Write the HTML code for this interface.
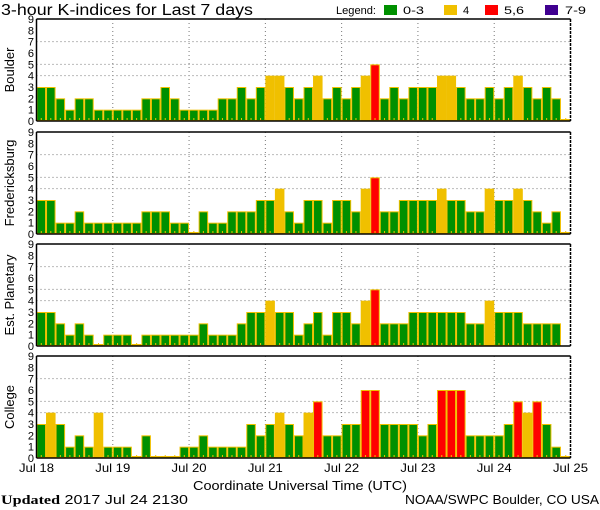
<!DOCTYPE html>
<html><head><meta charset="utf-8"><style>
body{margin:0;background:#fff;}
svg{display:block;font-family:"Liberation Sans",sans-serif;}
</style></head><body>
<svg id="c" width="600" height="510">
<text x="1" y="15" font-size="15.5" textLength="252" lengthAdjust="spacingAndGlyphs">3-hour K-indices for Last 7 days</text>
<g font-size="11">
<text x="336" y="14" textLength="40" lengthAdjust="spacingAndGlyphs">Legend:</text>
<rect x="384" y="5" width="13" height="10" fill="#009000"/>
<text x="403" y="14" textLength="21" lengthAdjust="spacingAndGlyphs">0-3</text>
<rect x="444" y="5" width="13" height="10" fill="#f0c000"/>
<text x="463" y="14">4</text>
<rect x="485" y="5" width="13" height="10" fill="#ff0000"/>
<text x="504" y="14" textLength="20" lengthAdjust="spacingAndGlyphs">5,6</text>
<rect x="545" y="5" width="13" height="10" fill="#400090"/>
<text x="565" y="14" textLength="21" lengthAdjust="spacingAndGlyphs">7-9</text>
</g>
<text x="193" y="490" font-size="13" textLength="214" lengthAdjust="spacingAndGlyphs">Coordinate Universal Time (UTC)</text>
<text x="1" y="504" font-size="13" textLength="187" lengthAdjust="spacingAndGlyphs"><tspan font-family="Liberation Serif" font-weight="bold">Updated</tspan> 2017 Jul 24 2130</text>
<text x="405" y="504" font-size="13" textLength="194" lengthAdjust="spacingAndGlyphs">NOAA/SWPC Boulder, CO USA</text>
</svg>
<script>
const stations = ["Boulder","Fredericksburg","Est. Planetary","College"];
const dayLabels = ["Jul 18","Jul 19","Jul 20","Jul 21","Jul 22","Jul 23","Jul 24","Jul 25"];
const yTicks = [0,1,2,3,4,5,6,7,8,9];
const boulder = [3,3,2,1,2,2,1,1, 1,1,1,2,2,3,2,1, 1,1,1,2,2,3,2,3, 4,4,3,2,3,4,2,3, 2,3,4,5,2,3,2,3, 3,3,4,4,3,2,2,3, 2,3,4,3,2,3,2,0];
const fredericksburg = [3,3,1,1,2,1,1,1, 1,1,1,2,2,2,1,1, 0,2,1,1,2,2,2,3, 3,4,2,1,3,3,1,3, 3,2,4,5,2,2,3,3, 3,3,4,3,3,2,2,4, 3,3,4,3,2,1,2,0];
const planetary = [3,3,2,1,2,1,0,1, 1,1,0,1,1,1,1,1, 1,2,1,1,1,2,3,3, 4,3,3,1,2,3,1,3, 3,2,4,5,2,2,2,3, 3,3,3,3,3,2,2,4, 3,3,3,2,2,2,2,null];
const college = [3,4,3,1,2,1,4,1, 1,1,0,2,0,0,0,1, 1,2,1,1,1,1,3,2, 3,4,3,2,4,5,2,2, 3,3,6,6,3,3,3,3, 2,3,6,6,6,2,2,2, 2,3,5,4,5,3,1,0];
const series = [boulder,fredericksburg,planetary,college];

const NS="http://www.w3.org/2000/svg";
const svg=document.getElementById('c');
const X0=36.5, W=534, H=102, tops=[19,132,244,356];
const nBars=56, bw=W/nBars;
const xScale=i=>X0+i*bw;
function mk(t,a,p){const e=document.createElementNS(NS,t);for(const k in a)e.setAttribute(k,a[k]);(p||svg).appendChild(e);return e;}
function col(k){return k<=3?"#009000":k==4?"#f0c000":k<=6?"#ff0000":"#400090";}
series.forEach((vals,si)=>{
  const top=tops[si], bot=top+H;
  const yScale=k=>bot-k*H/9;
  const g=mk('g',{});
  
  
  [4,5,7].forEach(k=>{const l=mk('line',{x1:X0,x2:X0+W,y1:yScale(k),y2:yScale(k),stroke:'#777','stroke-dasharray':'1,3'},g);
    
    });
  for(let d=1;d<7;d++){const x=xScale(d*8);const l=mk('line',{x1:x,x2:x,y1:top,y2:bot,stroke:'#777','stroke-dasharray':'1,3'},g);
    
    }
  vals.forEach((k,i)=>{
    if(k===null)return;
    const x=xScale(i);
    let y=yScale(k), h=bot-y;
    if(k===0){h=2;y=bot-2;}
    const r=mk('rect',{x:x+0.5,y:y+0.5,width:bw-1,height:Math.max(h-1,1),fill:col(k),stroke:'#f0c000','stroke-width':1},g);
    
    
    const t=mk('rect',{x:x+bw/2-0.5,y:bot-3,width:1,height:2,fill:'#f0c000'},g);
    
    
  });
  mk('line',{x1:X0,x2:X0+W,y1:top,y2:top,stroke:'#000','stroke-width':1.5},g);
  mk('line',{x1:X0,x2:X0+W,y1:bot,y2:bot,stroke:'#000','stroke-width':1.5},g);
  mk('line',{x1:X0,x2:X0,y1:top,y2:bot,stroke:'#000','stroke-width':1.5},g);
  mk('line',{x1:X0+W,x2:X0+W,y1:top,y2:bot,stroke:'#000','stroke-width':1.5,'stroke-dasharray':'3,1'},g);
  yTicks.forEach(k=>{const t=mk('text',{x:34,y:yScale(k)+4,'font-size':11,'text-anchor':'end'},g);t.textContent=k;
    
    });
  const lbl=mk('text',{x:0,y:0,'font-size':13,'text-anchor':'middle',transform:`translate(14,${top+H/2}) rotate(-90)`},g);
  lbl.textContent=stations[si];
  
  
});
dayLabels.forEach((s,d)=>{const t=mk('text',{x:xScale(d*8),y:472,'font-size':12,'text-anchor':'middle',textLength:35,lengthAdjust:'spacingAndGlyphs'});t.textContent=s;
  
  });
</script>
</body></html>
